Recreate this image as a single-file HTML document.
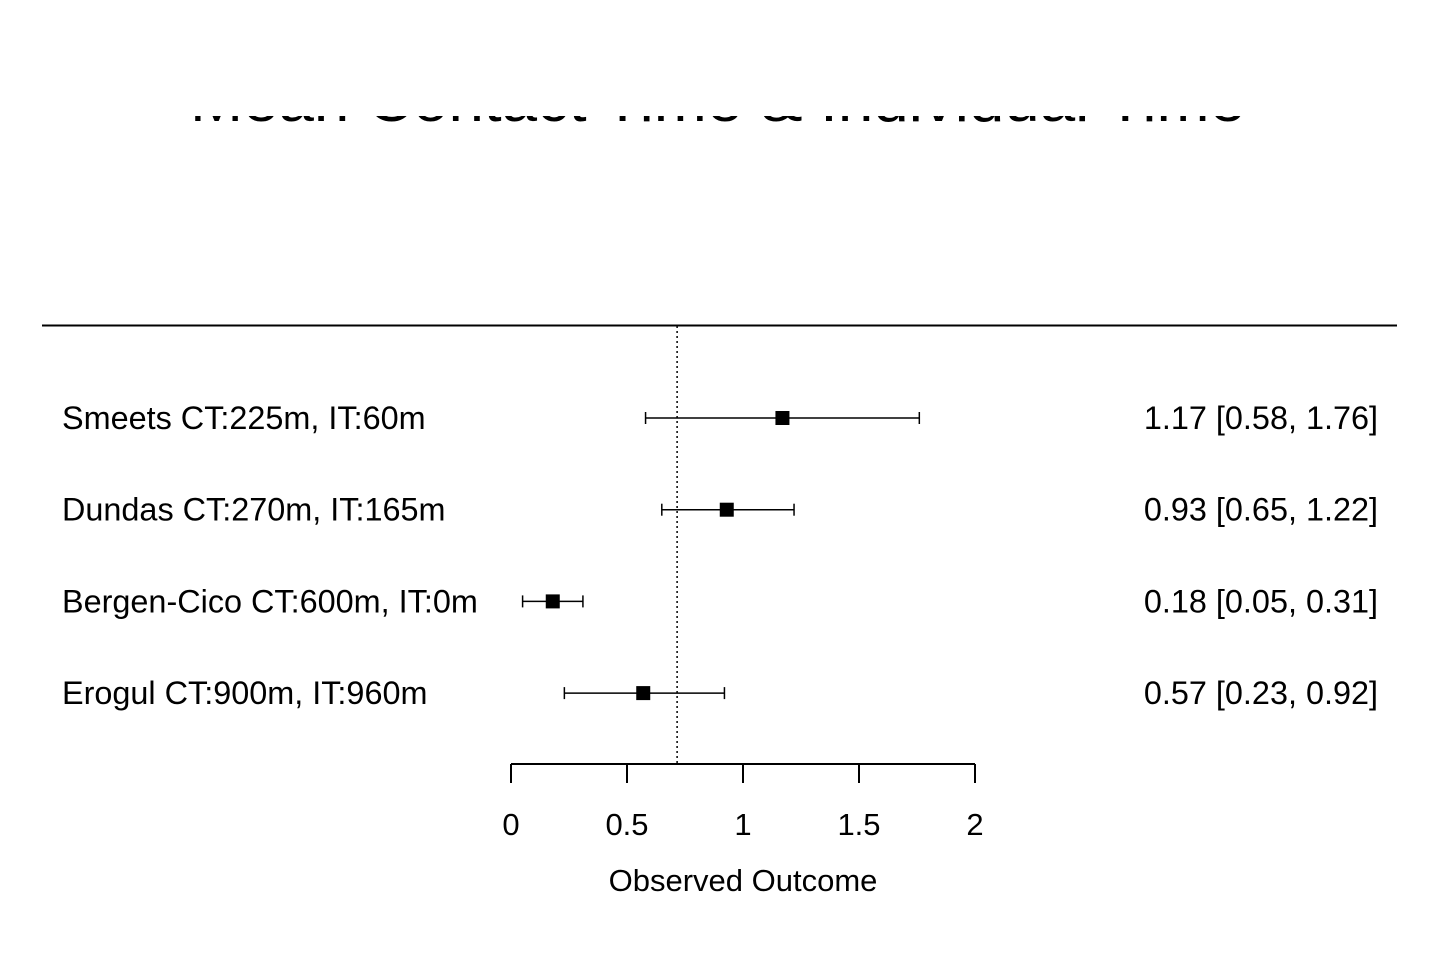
<!DOCTYPE html>
<html><head><meta charset="utf-8"><style>
html,body{margin:0;padding:0;background:#fff;}
svg text{font-family:"Liberation Sans",sans-serif;fill:#000;}
</style></head><body>
<svg id="chart" width="1440" height="960" xmlns="http://www.w3.org/2000/svg">
<defs><clipPath id="tc"><rect x="0" y="116" width="1440" height="6"/></clipPath></defs>
<g clip-path="url(#tc)">
<text x="190" y="121" font-size="60" textLength="1055" lengthAdjust="spacingAndGlyphs">Mean Contact Time &amp; Individual Time</text>
</g>
<line x1="42" y1="325.5" x2="1397" y2="325.5" stroke="#000" stroke-width="2"/>
<g id="plot"></g>
</svg>
<script>
const studies = ["Smeets CT:225m, IT:60m","Dundas CT:270m, IT:165m","Bergen-Cico CT:600m, IT:0m","Erogul CT:900m, IT:960m"];
const estimates = [1.17, 0.93, 0.18, 0.57];
const lowers = [0.58, 0.65, 0.05, 0.23];
const uppers = [1.76, 1.22, 0.31, 0.92];
const ciLabels = ["1.17 [0.58, 1.76]","0.93 [0.65, 1.22]","0.18 [0.05, 0.31]","0.57 [0.23, 0.92]"];
const ticks = [0, 0.5, 1, 1.5, 2];
const refLine = 0.716;

const NS = "http://www.w3.org/2000/svg";
const g = document.getElementById("plot");
const xs = v => 511 + v * 232;
const ys = i => 418 + i * 91.7;
function mk(tag, attrs, text){
  const e = document.createElementNS(NS, tag);
  for (const k in attrs) e.setAttribute(k, attrs[k]);
  if (text !== undefined) e.textContent = text;
  g.appendChild(e);
  return e;
}
let e = mk("line",{x1:xs(refLine),x2:xs(refLine),y1:326,y2:764,stroke:"#000","stroke-width":1.5,"stroke-dasharray":"2,3"});


studies.forEach((s,i)=>{
  const y = ys(i);
  let t = mk("text",{x:62,y:y+11,"font-size":32.4},s);
  
  
  let l = mk("line",{x1:xs(lowers[i]),x2:xs(uppers[i]),y1:y,y2:y,stroke:"#000","stroke-width":1.5});
  
  
  [lowers[i],uppers[i]].forEach(v=>{
    let c = mk("line",{x1:xs(v),x2:xs(v),y1:y-6,y2:y+6,stroke:"#000","stroke-width":1.5});
    
    
  });
  let r = mk("rect",{x:xs(estimates[i])-7,y:y-7,width:14,height:14,fill:"#000"});
  
  
  let c2 = mk("text",{x:1378,y:y+11,"font-size":32.4,"text-anchor":"end"},ciLabels[i]);
  
  
});
let ax = mk("line",{x1:xs(ticks[0]),x2:xs(ticks[ticks.length-1]),y1:764,y2:764,stroke:"#000","stroke-width":2});


ticks.forEach(v=>{
  let tk = mk("line",{x1:xs(v),x2:xs(v),y1:764,y2:783,stroke:"#000","stroke-width":2});
  
  
  let tl = mk("text",{x:xs(v),y:835,"font-size":31,"text-anchor":"middle"},String(v));
  
  
});
let at = mk("text",{x:743,y:891,"font-size":31,"text-anchor":"middle"},"Observed Outcome");


</script>
</body></html>
